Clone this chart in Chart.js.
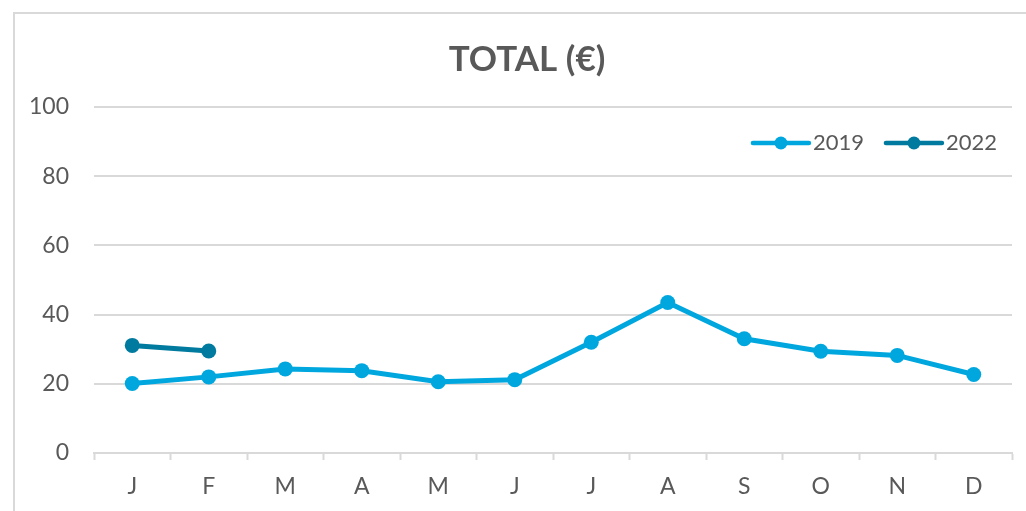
<!DOCTYPE html>
<html>
<head>
<meta charset="utf-8">
<script src="https://cdn.jsdelivr.net/npm/chart.js@4"></script>
<style>
  html, body { margin: 0; padding: 0; background: #fff; }
  #wrap { width: 1026px; height: 511px; position: relative; }
</style>
</head>
<body>
<div id="wrap"><canvas id="c" width="1026" height="511"></canvas></div>
<script>
const months = ['J','F','M','A','M','J','J','A','S','O','N','D'];
const values2019 = [20.1, 22.0, 24.3, 23.8, 20.6, 21.2, 32.0, 43.5, 33.0, 29.4, 28.2, 22.7];
const values2022 = [31.1, 29.5, null, null, null, null, null, null, null, null, null, null];
const seriesNames = ['2019', '2022'];
const seriesColors = ['#00A7DF', '#007A9E'];
const yTicks = [0, 20, 40, 60, 80, 100];
const titleText = 'TOTAL (€)';

const FONT = 'Lato, "Open Sans", sans-serif';
const TEXT = '#595959';
const GRID = '#d9d9d9';

const frame = {
  id: 'frame',
  beforeDraw(chart) {
    const ctx = chart.ctx;
    ctx.save();
    ctx.strokeStyle = GRID;
    ctx.lineWidth = 2;
    ctx.beginPath();
    ctx.moveTo(14, 511);
    ctx.lineTo(14, 13);
    ctx.lineTo(1026, 13);
    ctx.stroke();
    ctx.restore();
  }
};

const chartTitle = {
  id: 'chartTitle',
  afterDraw(chart) {
    const ctx = chart.ctx;
    ctx.save();
    ctx.font = 'bold 35px ' + FONT;
    ctx.fillStyle = TEXT;
    ctx.textAlign = 'center';
    ctx.textBaseline = 'middle';
    ctx.fillText(titleText, 527, 60);
    ctx.restore();
  }
};

const legendInside = {
  id: 'legendInside',
  afterDraw(chart) {
    const ctx = chart.ctx;
    ctx.save();
    ctx.font = '22px ' + FONT;
    ctx.textBaseline = 'middle';
    const y = 143;
    let right = chart.chartArea.right - 15;
    const ds = chart.data.datasets;
    for (let i = ds.length - 1; i >= 0; i--) {
      const label = ds[i].label;
      const tw = ctx.measureText(label).width;
      const textX = right - tw;
      const lineEnd = textX - 4;
      const lineStart = lineEnd - 56;
      ctx.strokeStyle = ds[i].borderColor;
      ctx.lineWidth = 4.5;
      ctx.lineCap = 'round';
      ctx.beginPath();
      ctx.moveTo(lineStart, y);
      ctx.lineTo(lineEnd, y);
      ctx.stroke();
      ctx.fillStyle = ds[i].borderColor;
      ctx.beginPath();
      ctx.arc((lineStart + lineEnd) / 2, y, 6.5, 0, Math.PI * 2);
      ctx.fill();
      ctx.fillStyle = TEXT;
      ctx.textAlign = 'left';
      ctx.fillText(label, textX, y);
      right = lineStart - 22;
    }
    ctx.restore();
  }
};

new Chart(document.getElementById('c'), {
  type: 'line',
  data: {
    labels: months,
    datasets: [
      {
        label: seriesNames[0],
        data: values2019,
        borderColor: seriesColors[0],
        backgroundColor: seriesColors[0],
        borderWidth: 5,
        pointRadius: 7.5,
        pointHoverRadius: 7.5,
        pointBorderWidth: 0,
        tension: 0
      },
      {
        label: seriesNames[1],
        data: values2022,
        borderColor: seriesColors[1],
        backgroundColor: seriesColors[1],
        borderWidth: 5,
        pointRadius: 7.5,
        pointHoverRadius: 7.5,
        pointBorderWidth: 0,
        tension: 0,
        spanGaps: false
      }
    ]
  },
  options: {
    responsive: false,
    animation: false,
    devicePixelRatio: 1,
    layout: { padding: { left: 0, right: 14, top: 107, bottom: 0 } },
    plugins: {
      legend: { display: false },
      tooltip: { enabled: false },
      title: { display: false }
    },
    scales: {
      x: {
        offset: true,
        grid: {
          offset: true,
          drawOnChartArea: false,
          drawTicks: true,
          tickLength: 7,
          tickWidth: 2,
          tickColor: GRID
        },
        border: { display: true, color: GRID, width: 2 },
        ticks: {
          color: TEXT,
          font: { family: FONT, size: 23 },
          padding: 13,
          maxRotation: 0,
          autoSkip: false
        },
        afterFit(scale) { scale.height = 58; }
      },
      y: {
        min: 0,
        max: 100,
        afterBuildTicks(scale) { scale.ticks = yTicks.map(v => ({ value: v })); },
        grid: { color: GRID, lineWidth: 2, drawTicks: false },
        border: { display: false },
        ticks: {
          color: TEXT,
          font: { family: FONT, size: 23 },
          padding: 25
        },
        afterFit(scale) { scale.width = 94; }
      }
    }
  },
  plugins: [frame, chartTitle, legendInside]
});
</script>
</body>
</html>
